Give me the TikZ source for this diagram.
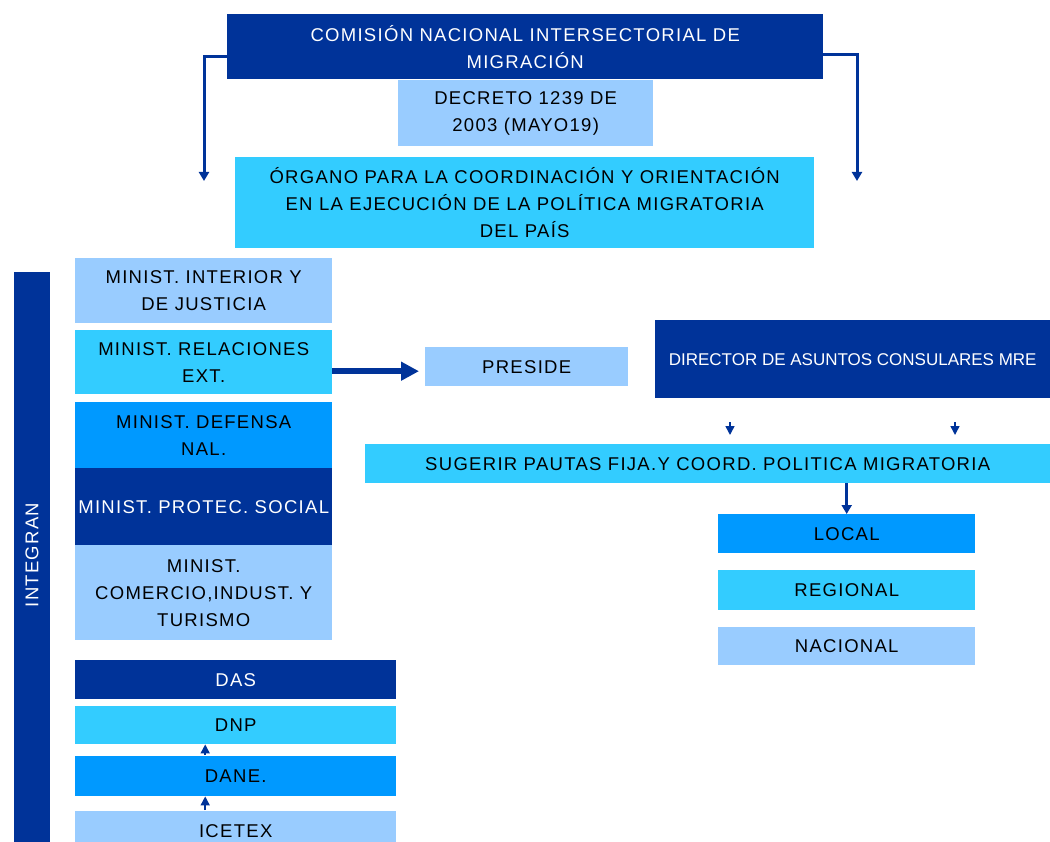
\documentclass[tikz,border=0pt]{standalone}
\usepackage{fontspec}
\setmainfont{Liberation Sans}[LetterSpace=7]
\usepackage{tikz}
\usetikzlibrary{arrows.meta}

\definecolor{oscuro}{RGB}{0,51,153}
\definecolor{claro}{RGB}{153,204,255}
\definecolor{celeste}{RGB}{51,204,255}
\definecolor{medio}{RGB}{0,153,255}

\tikzset{
	caja/.style={anchor=north west, inner sep=0pt, align=center, font=\fontsize{18.5}{27}\selectfont},
	cajaosc/.style={caja, fill=oscuro, text=white},
	conn/.style={oscuro, line width=3pt, -{Triangle[width=10pt,length=9pt]}},
	punta/.style={oscuro, line width=1.5pt, -{Triangle[width=9pt,length=9pt]}},
}

\begin{document}
\begin{tikzpicture}[x=1pt, y=-1pt]
	\useasboundingbox[fill=white] (0,0) rectangle (1050,842);

	% comision
	\node[cajaosc, minimum width=596, minimum height=65] (titulo) at (227,14) {COMISIÓN NACIONAL INTERSECTORIAL DE\\MIGRACIÓN};
	\node[caja, fill=claro, minimum width=255, minimum height=66] (decreto) at (398,80) {DECRETO 1239 DE\\2003 (MAYO19)};
	\node[caja, fill=celeste, minimum width=579, minimum height=91] (organo) at (235,157) {ÓRGANO PARA LA COORDINACIÓN Y ORIENTACIÓN\\EN LA EJECUCIÓN DE LA POLÍTICA MIGRATORIA\\DEL PAÍS};
	\coordinate (izq) at (204,181);
	\coordinate (der) at (857,181);
	\draw[conn] ([yshift=-10]titulo.west) -| (izq);
	\draw[conn] ([yshift=-8]titulo.east) -| (der);

	% integran
	\node[cajaosc, minimum width=36, minimum height=580] (integran) at (14,272) {};
	\node[text=white, rotate=90, font=\fontsize{18.5}{20}\selectfont] at (32,555) {INTEGRAN};

	% ministerios
	\node[caja, fill=claro, minimum width=257, minimum height=65] (interior) at (75,258) {MINIST. INTERIOR Y\\DE JUSTICIA};
	\node[caja, fill=celeste, minimum width=257, minimum height=64] (relext) at (75,330) {MINIST. RELACIONES\\EXT.};
	\node[caja, fill=medio, minimum width=257, minimum height=66] (defensa) at (75,402) {MINIST. DEFENSA\\NAL.};
	\node[cajaosc, minimum width=257, minimum height=77] (social) at (75,468) {MINIST. PROTEC. SOCIAL};
	\node[caja, fill=claro, minimum width=257, minimum height=95] (comercio) at (75,545) {MINIST.\\COMERCIO,INDUST. Y\\TURISMO};

	% preside
	\node[caja, fill=claro, minimum width=203, minimum height=39] (preside) at (425,347) {PRESIDE};
	\draw[oscuro, line width=6pt, -{Triangle[width=18pt,length=18pt]}] ([yshift=-9]relext.east) -- ([xshift=-6,yshift=-4.5]preside.west);
	\node[cajaosc, minimum width=395, minimum height=78, font=\fontsize{17}{20}\selectfont\addfontfeatures{LetterSpace=0}] (director) at (655,320) {DIRECTOR DE ASUNTOS CONSULARES MRE};
	\node[caja, fill=celeste, minimum width=685, minimum height=39] (sugerir) at (365,444) {SUGERIR PAUTAS FIJA.Y COORD. POLITICA MIGRATORIA};
	\draw[punta, shorten <=24pt, shorten >=9pt] (730,0 |- director.south) -- (730,0 |- sugerir.north);
	\draw[punta, shorten <=24pt, shorten >=9pt] (955,0 |- director.south) -- (955,0 |- sugerir.north);

	% niveles
	\node[caja, fill=medio, minimum width=257, minimum height=39] (local) at (718,514) {LOCAL};
	\node[caja, fill=celeste, minimum width=257, minimum height=40] (regional) at (718,570) {REGIONAL};
	\node[caja, fill=claro, minimum width=257, minimum height=38] (nacional) at (718,627) {NACIONAL};
	\draw[conn] (sugerir.south -| local.north) -- (local.north);

	% entidades
	\node[cajaosc, minimum width=321, minimum height=39] (das) at (75,660) {DAS};
	\node[caja, fill=celeste, minimum width=321, minimum height=38] (dnp) at (75,706) {DNP};
	\node[caja, fill=medio, minimum width=321, minimum height=40] (dane) at (75,756) {DANE.};
	\node[caja, fill=claro, minimum width=321, minimum height=40] (icetex) at (75,811) {ICETEX};
	\draw[punta, shorten <=1pt] ([xshift=-30.5]dane.north) -- ([xshift=-30.5]dnp.south);
	\draw[punta, shorten <=1pt] ([xshift=-30.5]icetex.north) -- ([xshift=-30.5]dane.south);
\end{tikzpicture}
\end{document}
